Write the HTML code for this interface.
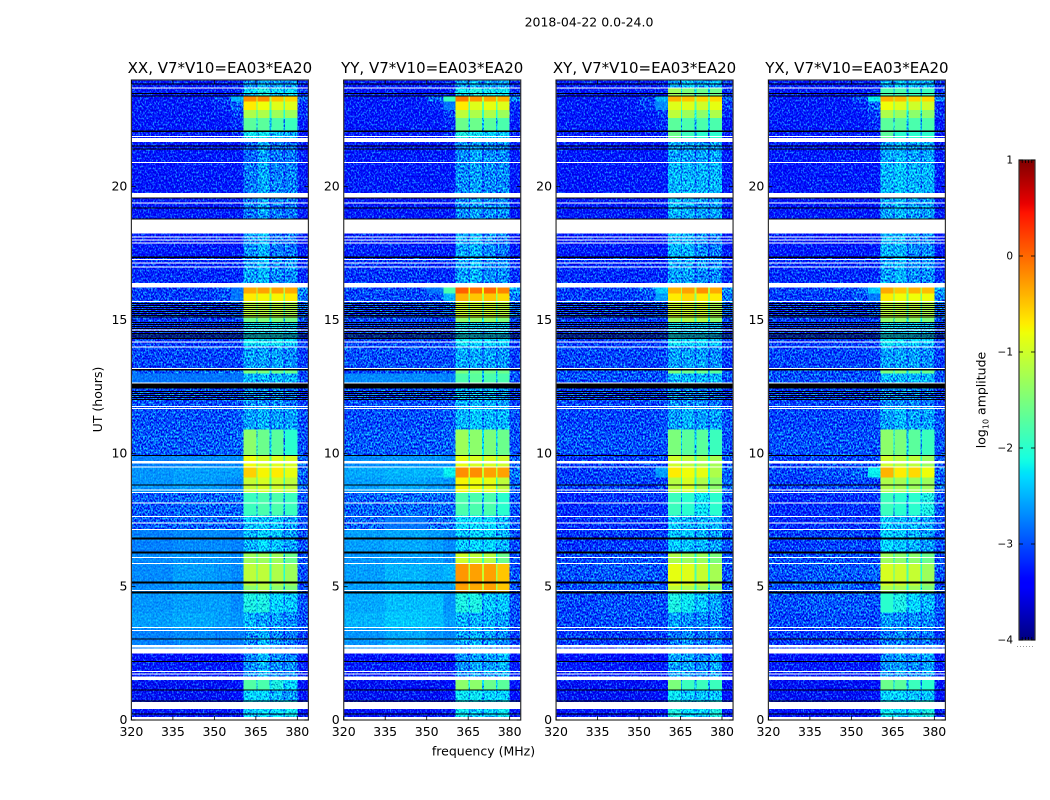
<!DOCTYPE html>
<html>
<head>
<meta charset="utf-8">
<title>2018-04-22 0.0-24.0</title>
<style>
html,body{margin:0;padding:0;background:#fff;width:1050px;height:800px;overflow:hidden}
svg{display:block}
text{font-family:"DejaVu Sans","Liberation Sans",sans-serif;fill:#000}
</style>
</head>
<body>
<svg id="figure" width="1050" height="800" viewBox="0 0 1050 800" xmlns="http://www.w3.org/2000/svg">
<defs>
<filter id="speckle" filterUnits="userSpaceOnUse" x="0" y="0" width="1050" height="800" color-interpolation-filters="sRGB">
<feTurbulence type="fractalNoise" baseFrequency="0.62 0.5" numOctaves="2" seed="7" result="n"/>
<feColorMatrix in="n" type="matrix" values="0.5 0 0 0 0.25  2.3 0 0 0 -0.65  0.6 0 0 0 0.2  0 0 0 0 1" result="c"/>
<feComposite in="SourceGraphic" in2="c" operator="arithmetic" k1="0" k2="1" k3="1" k4="-0.5" result="m"/>
<feComposite in="m" in2="SourceAlpha" operator="in"/>
</filter>
<filter id="speckle-soft" filterUnits="userSpaceOnUse" x="0" y="0" width="1050" height="800" color-interpolation-filters="sRGB">
<feTurbulence type="fractalNoise" baseFrequency="0.62 0.5" numOctaves="2" seed="11" result="n"/>
<feColorMatrix in="n" type="matrix" values="0.2 0 0 0 0.4  0.6 0 0 0 0.2  0.2 0 0 0 0.4  0 0 0 0 1" result="c"/>
<feComposite in="SourceGraphic" in2="c" operator="arithmetic" k1="0" k2="1" k3="1" k4="-0.5" result="m"/>
<feComposite in="m" in2="SourceAlpha" operator="in"/>
</filter>
<linearGradient id="jet-gradient" x1="0" y1="1" x2="0" y2="0"></linearGradient>
</defs>
<rect width="1050" height="800" fill="#fff"/>
<text x="589" y="26.500" font-size="12.5" text-anchor="middle">2018-04-22 0.0-24.0</text>
<text x="483.500" y="755.500" font-size="12.5" text-anchor="middle">frequency (MHz)</text>
<text x="0" y="0" font-size="12.500" text-anchor="middle" transform="translate(102,399.500) rotate(-90)">UT (hours)</text>
<g id="panels"></g>
<g id="colorbar"></g>
<text x="0" y="0" font-size="12.500" text-anchor="middle" transform="translate(985.500,400) rotate(-90)">log<tspan font-size="8" dy="3">10</tspan><tspan dy="-3"> amplitude</tspan></text>
</svg>
<script>
// ---------- chart data ----------
const panelTitles = ["XX, V7*V10=EA03*EA20", "YY, V7*V10=EA03*EA20", "XY, V7*V10=EA03*EA20", "YX, V7*V10=EA03*EA20"];
const freqTicks = [320, 335, 350, 365, 380];
const hourTicks = [0, 5, 10, 15, 20];
const colorTicks = [1, 0, -1, -2, -3, -4];
// frequency channel edges (MHz), one channel per matrix column
const channelEdges = [
  [320, 335], [335, 350], [350, 356], [356, 360.5],
  [360.5, 365.2], [365.6, 370], [370.7, 375], [375.6, 380], [380, 384]
];
// narrow notch channels between the bright sub-bands: [MHz range, left column, right column]
const notchChannels = [[365.2, 365.6, 4, 5], [370, 370.7, 5, 6], [375, 375.6, 6, 7]];
// time bin edges, top to bottom (hours UT)
const rowEdgesHours = [24,23.7,23.38,23.2,22.88,22.58,22.09,21.67,20.92,19.59,18.24,17.35,16.31,15.99,15.69,15.07,14.92,14.04,13.16,12.99,12.43,11.74,10.89,9.91,9.5,9.09,8.54,7.66,7.14,6.28,5.89,5.04,4.75,4.04,3.44,2.5,2.19,1.5,1.12,.74,0];
// log10 amplitude: rows = time bins, columns = channels
const ampXX = [
[-3.3,-3.3,-3.3,-3.25,-2.7,-2.5,-2.6,-2.6,-3.2],
[-3.3,-3.3,-3.3,-3.25,-2.3,-2.1,-2.3,-2.3,-3.2],
[-3.3,-3.3,-3.1,-2.5,-.2,-.2,-.5,-.6,-2.9],
[-3.3,-3.3,-3.2,-2.9,-.7,-.8,-.9,-.9,-3.2],
[-3.3,-3.3,-3.3,-3.1,-1.2,-1.2,-1.3,-1.3,-3.2],
[-3.3,-3.3,-3.3,-3.2,-1.7,-1.7,-1.8,-1.9,-3.3],
[-3.3,-3.3,-3.3,-3.2,-2.2,-2.2,-2.4,-2.5,-3.3],
[-3.3,-3.3,-3.3,-3.3,-2.9,-2.6,-2.8,-2.8,-3.3],
[-3.35,-3.3,-3.3,-3.3,-2.8,-2.55,-2.75,-2.75,-3.3],
[-3.3,-3.3,-3.3,-3.3,-2.8,-2.6,-2.8,-2.8,-3.3],
[-3.3,-3.3,-3.3,-3.3,-2.7,-2.5,-2.8,-2.8,-3.3],
[-3.2,-3.2,-3.2,-3.2,-2.6,-2.5,-2.7,-2.7,-3.2],
[-3.1,-3.1,-3,-2.8,-.35,-.3,-.3,-.35,-2.7],
[-3.1,-3.1,-3,-2.8,-.7,-.75,-.75,-.7,-2.8],
[-3.1,-3.1,-3.1,-3,-1.1,-1.1,-1.1,-1.2,-2.9],
[-3.1,-3.1,-3.1,-3.1,-1.6,-1.5,-1.5,-1.6,-3],
[-3.1,-3.1,-3.1,-3.1,-2.2,-2.2,-2.2,-2.3,-3.1],
[-3.05,-3.05,-3.05,-3.05,-2.6,-2.6,-2.6,-2.7,-3.1],
[-2.95,-2.9,-2.9,-2.9,-1.5,-1.5,-1.6,-1.6,-3],
[-2.8,-2.8,-2.8,-2.8,-2.5,-2.5,-2.5,-2.5,-3],
[-3,-3,-3,-3,-2.7,-2.7,-2.7,-2.8,-3.1],
[-3,-3,-3,-2.95,-2.6,-2.5,-2.6,-2.6,-3],
[-2.95,-2.95,-2.95,-2.9,-1.4,-1.6,-1.7,-2,-3],
[-2.75,-2.7,-2.7,-2.7,-.8,-.95,-.9,-.95,-2.9],
[-2.65,-2.6,-2.6,-2.6,-.55,-.75,-.7,-.85,-2.9],
[-2.65,-2.6,-2.65,-2.7,-1.05,-.95,-1,-1.1,-2.9],
[-2.95,-2.9,-2.9,-2.9,-1.9,-1.8,-1.8,-1.9,-3],
[-2.95,-2.9,-2.9,-2.9,-2.4,-2.4,-2.4,-2.6,-3],
[-2.75,-2.7,-2.7,-2.75,-2.5,-2.3,-2.4,-2.6,-3],
[-2.7,-2.65,-2.65,-2.7,-1.3,-1.3,-1.3,-1.6,-3],
[-2.7,-2.6,-2.65,-2.7,-1.1,-1.1,-1.2,-1.3,-3],
[-2.7,-2.65,-2.65,-2.7,-1.4,-1.2,-1.4,-1.5,-3],
[-2.65,-2.6,-2.6,-2.7,-2.1,-2.1,-2.3,-2.4,-3],
[-2.6,-2.55,-2.6,-2.65,-2.5,-2.6,-2.6,-2.7,-3],
[-2.75,-2.7,-2.75,-2.75,-2.7,-2.5,-2.7,-2.8,-3.1],
[-3.45,-3.45,-3.45,-3.4,-2.7,-2.5,-2.7,-2.7,-3.4],
[-3.3,-3.3,-3.3,-3.3,-2.7,-2.5,-2.7,-2.7,-3.3],
[-3.5,-3.5,-3.5,-3.45,-1.75,-1.8,-2.1,-2.3,-3.4],
[-3.5,-3.5,-3.5,-3.45,-2.3,-2.3,-2.5,-2.6,-3.4],
[-3.35,-3.35,-3.35,-3.3,-2.4,-2.3,-2.3,-2.2,-3.3]
];
const ampYY = [
[-3.3,-3.3,-3.3,-3.25,-2.6,-2.5,-2.6,-2.6,-3.2],
[-3.3,-3.3,-3.3,-3.25,-2.2,-2.1,-2.2,-2.2,-3.2],
[-3.3,-3.3,-2.9,-1.9,-.1,-.25,-.35,-.4,-2.7],
[-3.3,-3.3,-3.2,-2.8,-.7,-.9,-.85,-.9,-3.2],
[-3.3,-3.3,-3.3,-3.1,-1.1,-1.2,-1.2,-1.3,-3.2],
[-3.3,-3.3,-3.3,-3.2,-1.6,-1.6,-1.7,-1.8,-3.3],
[-3.3,-3.3,-3.3,-3.2,-2.1,-2.2,-2.3,-2.4,-3.3],
[-3.3,-3.3,-3.3,-3.3,-2.7,-2.6,-2.7,-2.7,-3.3],
[-3.3,-3.3,-3.3,-3.3,-2.7,-2.6,-2.7,-2.7,-3.3],
[-3.3,-3.3,-3.3,-3.3,-2.7,-2.6,-2.7,-2.7,-3.3],
[-3.25,-3.25,-3.25,-3.3,-2.6,-2.5,-2.7,-2.8,-3.3],
[-3.15,-3.15,-3.2,-3.2,-2.6,-2.5,-2.7,-2.7,-3.2],
[-3.05,-3.05,-2.8,-1.8,.05,-.05,0,-.15,-2.6],
[-3.05,-3.05,-3,-2.5,-.4,-.5,-.5,-.6,-2.8],
[-3.05,-3.05,-3.05,-2.9,-1,-1,-1,-1.1,-2.9],
[-3.05,-3.05,-3.05,-3.05,-1.4,-1.4,-1.4,-1.5,-3],
[-3.05,-3.05,-3.05,-3.05,-2.2,-2.3,-2.3,-2.3,-3.1],
[-3,-3,-3,-3,-2.55,-2.55,-2.6,-2.65,-3.1],
[-3.1,-3,-3,-3,-1.5,-1.6,-1.6,-1.6,-3],
[-2.7,-2.7,-2.7,-2.75,-1.8,-1.7,-1.8,-1.8,-3],
[-3,-3,-3,-3,-2.5,-2.5,-2.5,-2.6,-3.1],
[-3,-3,-3,-2.95,-2.5,-2.4,-2.5,-2.5,-3],
[-2.95,-2.95,-2.95,-2.9,-1.3,-1.4,-1.5,-1.6,-3],
[-2.7,-2.65,-2.65,-2.7,-.85,-.95,-.95,-1,-2.9],
[-2.55,-2.5,-2.5,-2.2,-.2,-.2,-.3,-.3,-2.8],
[-2.6,-2.55,-2.6,-2.65,-.75,-.8,-.85,-1.1,-2.9],
[-2.9,-2.85,-2.85,-2.9,-1.8,-1.8,-1.8,-2,-3],
[-2.9,-2.8,-2.85,-2.85,-2.3,-2.3,-2.3,-2.5,-3],
[-2.6,-2.55,-2.6,-2.7,-2.4,-2.3,-2.3,-2.5,-3],
[-2.65,-2.6,-2.6,-2.7,-1,-1.1,-1.15,-1.6,-3],
[-2.6,-2.5,-2.55,-2.5,-.25,-.3,-.3,-.5,-3],
[-2.6,-2.55,-2.6,-2.6,-.3,-.35,-.3,-.5,-3],
[-2.55,-2.45,-2.45,-2.65,-2.1,-2.1,-2.4,-2.4,-3],
[-2.5,-2.4,-2.45,-2.6,-2.5,-2.5,-2.5,-2.6,-3],
[-2.65,-2.55,-2.65,-2.7,-2.6,-2.5,-2.6,-2.7,-3.1],
[-3.45,-3.45,-3.45,-3.4,-2.7,-2.6,-2.6,-2.5,-3.4],
[-3.3,-3.3,-3.3,-3.3,-2.7,-2.6,-2.6,-2.5,-3.3],
[-3.5,-3.5,-3.5,-3.45,-1.4,-1.4,-1.6,-1.7,-3.4],
[-3.5,-3.5,-3.5,-3.45,-2.2,-2.2,-2.3,-2.3,-3.4],
[-3.35,-3.35,-3.35,-3.3,-2.2,-2.4,-2.3,-2.2,-3.3]
];
const ampXY = [
[-3.3,-3.3,-3.3,-3.25,-2.6,-2.4,-2.5,-2.5,-3.2],
[-3.3,-3.3,-3.3,-3.25,-1.3,-1.5,-1.6,-1.6,-3.2],
[-3.3,-3.3,-3.1,-2.5,-.4,-.5,-.6,-.6,-2.9],
[-3.3,-3.3,-3.1,-2.7,-.9,-.9,-1,-.85,-3.1],
[-3.3,-3.3,-3.3,-3.1,-1.1,-1.3,-1.4,-1.2,-3.2],
[-3.3,-3.3,-3.3,-3.2,-1.7,-1.8,-1.8,-1.8,-3.3],
[-3.3,-3.3,-3.3,-3.2,-1.6,-1.9,-2,-2,-3.3],
[-3.3,-3.3,-3.3,-3.3,-2.6,-2.6,-2.6,-2.6,-3.3],
[-3.35,-3.3,-3.3,-3.3,-2.5,-2.5,-2.5,-2.5,-3.3],
[-3.3,-3.3,-3.3,-3.3,-2.5,-2.55,-2.6,-2.6,-3.3],
[-3.3,-3.3,-3.3,-3.3,-2.5,-2.5,-2.7,-2.8,-3.3],
[-3.2,-3.2,-3.2,-3.2,-2.6,-2.6,-2.7,-2.7,-3.2],
[-3.1,-3.05,-2.9,-2.4,-.4,-.3,-.2,-.35,-2.7],
[-3.1,-3.1,-3,-2.6,-.7,-.6,-.7,-.7,-2.8],
[-3.1,-3.1,-3.1,-3,-1,-1,-1,-1.2,-2.9],
[-3.1,-3.1,-3.1,-3.1,-1.3,-1.2,-1.2,-1.4,-3],
[-3.1,-3.1,-3.1,-3.1,-2.2,-2.3,-2.3,-2.4,-3.1],
[-3.05,-3.05,-3.05,-3.05,-2.6,-2.6,-2.6,-2.7,-3.1],
[-3,-3,-3,-3,-1.5,-1.6,-1.6,-1.7,-3],
[-3,-3,-3,-3,-2.5,-2.5,-2.5,-2.5,-3],
[-3.05,-3.05,-3.05,-3.05,-2.7,-2.7,-2.7,-2.8,-3.1],
[-3.05,-3.05,-3.05,-3,-2.6,-2.5,-2.6,-2.6,-3],
[-3,-3,-3,-3,-1.5,-1.7,-1.7,-1.9,-3],
[-3.15,-3.1,-3.1,-3.05,-1,-1.1,-1.2,-1.25,-3],
[-3.1,-3.05,-3,-2.6,-.7,-.8,-.85,-1.2,-2.9],
[-3.1,-3.05,-3.1,-3.1,-1.15,-.95,-1.2,-1.4,-2.9],
[-3.2,-3.15,-3.15,-3.15,-1.9,-2,-2.2,-2,-3],
[-3.2,-3.15,-3.15,-3.15,-2.4,-2.5,-2.5,-2.5,-3],
[-3.15,-3.1,-3.1,-3.1,-2.4,-2.4,-2.5,-2.6,-3],
[-3.05,-3,-3,-3.05,-1.2,-1.3,-1.3,-1.5,-3],
[-3,-2.95,-2.95,-3,-.85,-.9,-1.05,-1.25,-3],
[-3,-2.95,-2.95,-3,-1.1,-1.2,-1.3,-1.4,-3],
[-3.05,-3,-3,-3,-2.1,-2.2,-2.4,-2.6,-3],
[-3.05,-3,-3,-3.05,-2.6,-2.7,-2.7,-2.7,-3],
[-3.1,-3.1,-3.1,-3.1,-2.8,-2.7,-2.8,-2.8,-3.1],
[-3.45,-3.45,-3.45,-3.4,-2.6,-2.6,-2.7,-2.6,-3.4],
[-3.3,-3.3,-3.3,-3.3,-2.6,-2.6,-2.7,-2.6,-3.3],
[-3.5,-3.5,-3.5,-3.45,-1.5,-1.9,-1.9,-1.9,-3.4],
[-3.5,-3.5,-3.5,-3.45,-2.2,-2.4,-2.4,-2.4,-3.4],
[-3.35,-3.35,-3.35,-3.3,-2.1,-2.3,-2.3,-2.1,-3.3]
];
const ampYX = [
[-3.3,-3.3,-3.3,-3.25,-2.6,-2.4,-2.5,-2.5,-3.2],
[-3.3,-3.3,-3.3,-3.25,-1.8,-1.8,-1.9,-1.9,-3.2],
[-3.3,-3.3,-3.05,-2.2,-.4,-.45,-.6,-.6,-2.8],
[-3.3,-3.3,-3.2,-2.9,-.8,-.9,-1,-1,-3.2],
[-3.3,-3.3,-3.3,-3.1,-1.2,-1.3,-1.4,-1.4,-3.2],
[-3.3,-3.3,-3.3,-3.2,-1.7,-1.7,-1.8,-1.8,-3.3],
[-3.3,-3.3,-3.3,-3.2,-1.7,-2,-2,-2,-3.3],
[-3.3,-3.3,-3.3,-3.3,-2.6,-2.5,-2.6,-2.6,-3.3],
[-3.35,-3.3,-3.3,-3.3,-2.5,-2.4,-2.5,-2.5,-3.3],
[-3.3,-3.3,-3.3,-3.3,-2.6,-2.5,-2.6,-2.6,-3.3],
[-3.3,-3.3,-3.3,-3.3,-2.5,-2.5,-2.7,-2.7,-3.3],
[-3.2,-3.2,-3.2,-3.2,-2.6,-2.5,-2.7,-2.7,-3.2],
[-3.1,-3.05,-2.9,-2.4,-.35,-.5,-.4,-.45,-2.6],
[-3.1,-3.1,-3,-2.8,-.7,-.8,-.8,-.8,-2.8],
[-3.1,-3.1,-3.1,-3,-1.1,-1.1,-1.1,-1.2,-2.9],
[-3.1,-3.1,-3.1,-3.1,-1.4,-1.4,-1.4,-1.5,-3],
[-3.1,-3.1,-3.1,-3.1,-2.2,-2.3,-2.3,-2.4,-3.1],
[-3.05,-3.05,-3.05,-3.05,-2.6,-2.6,-2.6,-2.7,-3.1],
[-3,-3,-3,-3,-1.5,-1.5,-1.6,-1.6,-3],
[-3,-3,-3,-3,-2.5,-2.5,-2.5,-2.5,-3],
[-3.05,-3.05,-3.05,-3.05,-2.7,-2.7,-2.7,-2.8,-3.1],
[-3.05,-3.05,-3.05,-3,-2.6,-2.5,-2.6,-2.6,-3],
[-3,-3,-3,-3,-1.4,-1.5,-1.7,-1.9,-3],
[-3.1,-3.05,-3.05,-3.05,-1,-1.1,-1.1,-1.3,-3],
[-3.05,-3,-2.9,-2.2,-.4,-.7,-.6,-.8,-2.9],
[-3.1,-3.05,-3.05,-3.1,-1.2,-1.25,-1.3,-1.3,-2.9],
[-3.2,-3.15,-3.15,-3.15,-1.9,-2,-2,-2.1,-3],
[-3.2,-3.15,-3.15,-3.15,-2.4,-2.5,-2.5,-2.6,-3],
[-3.1,-3.05,-3.05,-3.1,-2.3,-2.4,-2.5,-2.6,-3],
[-3,-3,-3,-3.05,-1.3,-1.4,-1.4,-1.6,-3],
[-3,-2.95,-2.95,-2.9,-.95,-1,-1.05,-1.3,-3],
[-3,-2.95,-2.95,-3,-1.2,-1.25,-1.3,-1.5,-3],
[-3,-2.95,-2.95,-3,-2,-2.1,-2.3,-2.5,-3],
[-3.05,-3,-3,-3.05,-2.6,-2.7,-2.7,-2.7,-3],
[-3.1,-3.1,-3.1,-3.1,-2.8,-2.7,-2.8,-2.8,-3.1],
[-3.45,-3.45,-3.45,-3.4,-2.7,-2.6,-2.7,-2.6,-3.4],
[-3.3,-3.3,-3.3,-3.3,-2.7,-2.6,-2.7,-2.6,-3.3],
[-3.5,-3.5,-3.5,-3.45,-1.6,-1.7,-1.9,-2,-3.4],
[-3.5,-3.5,-3.5,-3.45,-2.3,-2.3,-2.4,-2.4,-3.4],
[-3.35,-3.35,-3.35,-3.3,-2.2,-2.3,-2.2,-2.1,-3.3]
];
const panelAmplitudes = [ampXX, ampYY, ampXY, ampYX];
// flagged data (hours UT): white = missing, black = blanked scans
const whiteLinesHours = [23.7,21.89,20.91,19.38,18.11,18,17.88,17.26,17.13,16.98,15.7,14.62,14.17,13.98,13.19,12.63,11.76,11.69,9.48,8.63,8.54,8.13,7.64,7.39,7.15,6.1,5.87,4.86,3.47,3.36,1.82,1.73];
const whiteBandsStart = [21.82,19.77,18.76,16.39,9.71,2.82,2.69,1.63,.68,.12];
const whiteBandsEnd = [21.67,19.59,18.24,16.21,9.61,2.72,2.5,1.5,.42,0];
const blackLinesHours = [23.85,23.49,23.4,21.53,21.41,19.57,19.2,18.78,15.62,15.54,15.47,15.39,15.32,15.24,15.17,15.11,14.9,14.84,14.75,14.69,14.56,14.5,14.44,14.37,14.31,12.32,12.25,12.16,12.09,12.01,9.91,8.81,6.83,6.78,5.18,5.13,3.03,2.19,1.12,.22];
const blackBandsStart = [22.1,17.38,13.16,12.61,6.31,4.81,.74];
const blackBandsEnd = [22.05,17.32,13.11,12.43,6.24,4.75,.69];

// ---------- axes ----------
const NS = "http://www.w3.org/2000/svg";
const AX_TOP = 80, AX_BOTTOM = 720, AX_W = 177, AX_STEP = 212.33, AX_LEFT = 131.4;
const F_MIN = 320, F_MAX = 384, H_MAX = 24, C_MIN = -4, C_MAX = 1;
const CB_LEFT = 1019, CB_RIGHT = 1035, CB_TOP = 160, CB_BOTTOM = 640;
function xScale(panel, mhz) { return AX_LEFT + AX_STEP * panel + (mhz - F_MIN) / (F_MAX - F_MIN) * AX_W; }
function yScale(h) { return AX_BOTTOM - h / H_MAX * (AX_BOTTOM - AX_TOP); }
function cScale(v) { return CB_BOTTOM - (v - C_MIN) / (C_MAX - C_MIN) * (CB_BOTTOM - CB_TOP); }
function ramp(t, xs, ys) {
  if (t <= xs[0]) return ys[0];
  for (let i = 1; i < xs.length; i++) {
    if (t <= xs[i]) return ys[i - 1] + (ys[i] - ys[i - 1]) * (t - xs[i - 1]) / (xs[i] - xs[i - 1]);
  }
  return ys[ys.length - 1];
}
function jet(v) {
  const t = (v - C_MIN) / (C_MAX - C_MIN);
  const r = ramp(t, [0, .35, .66, .89, 1], [0, 0, 1, 1, .5]);
  const g = ramp(t, [0, .125, .375, .64, .91, 1], [0, 0, 1, 1, 0, 0]);
  const b = ramp(t, [0, .11, .34, .65, 1], [.5, 1, 1, 0, 0]);
  return "rgb(" + Math.round(r * 255) + "," + Math.round(g * 255) + "," + Math.round(b * 255) + ")";
}
function svgEl(tag, parent, attrs) {
  const el = document.createElementNS(NS, tag);
  for (const k in attrs) el.setAttribute(k, attrs[k]);
  parent.appendChild(el);
  return el;
}

const panelsRoot = document.getElementById("panels");
const panelKeys = ["xx", "yy", "xy", "yx"];
panelTitles.forEach(function (title, p) {
  const group = svgEl("g", panelsRoot, {});
  
  

  const noisy = svgEl("g", group, { filter: "url(#speckle)", "shape-rendering": "crispEdges" });
  
  
  const soft = svgEl("g", group, { filter: "url(#speckle-soft)", "shape-rendering": "crispEdges" });
  
  
  const smooth = svgEl("g", group, { "shape-rendering": "crispEdges" });
  
  

  const matrix = panelAmplitudes[p];
  function addCell(f0, f1, h0, h1, value, isContinuum) {
    const x0 = xScale(p, f0), x1 = xScale(p, f1), y0 = yScale(h0), y1 = yScale(h1);
    const target = value >= -2.05 ? smooth : (isContinuum && value > -2.85 ? soft : noisy);
    const cell = svgEl("rect", target, {
      x: x0.toFixed(2), y: y0.toFixed(2),
      width: (x1 - x0).toFixed(2), height: (y1 - y0).toFixed(2), fill: jet(value)
    });
    
    
  }
  matrix.forEach(function (row, r) {
    const h0 = rowEdgesHours[r], h1 = rowEdgesHours[r + 1];
    row.forEach(function (value, c) { addCell(channelEdges[c][0], channelEdges[c][1], h0, h1, value, c < 4); });
    notchChannels.forEach(function (n) {
      const base = Math.min(row[n[2]], row[n[3]]);
      addCell(n[0], n[1], h0, h1, base - (base > -2.05 ? 0.75 : 0.3), false);
    });
  });

  const flags = svgEl("g", group, { "shape-rendering": "crispEdges" });
  
  
  const left = xScale(p, F_MIN), right = xScale(p, F_MAX);
  function addFlag(h0, h1, color) {
    const y0 = yScale(h0), y1 = yScale(h1);
    const flag = svgEl("rect", flags, {
      x: left.toFixed(2), y: y0.toFixed(2), width: (right - left).toFixed(2),
      height: Math.max(1, y1 - y0).toFixed(2), fill: color
    });
    
    
  }
  const halfLine = 0.5 * H_MAX / (AX_BOTTOM - AX_TOP);
  blackLinesHours.forEach(function (h) { addFlag(h + halfLine, h - halfLine, "#000"); });
  blackBandsStart.forEach(function (h, i) { addFlag(h, blackBandsEnd[i], "#000"); });
  whiteLinesHours.forEach(function (h) { addFlag(h + halfLine, h - halfLine, "#fff"); });
  whiteBandsStart.forEach(function (h, i) { addFlag(h, whiteBandsEnd[i], "#fff"); });

  const frame = svgEl("rect", group, {
    x: left.toFixed(2), y: AX_TOP, width: (right - left).toFixed(2), height: AX_BOTTOM - AX_TOP,
    fill: "none", stroke: "#333", "stroke-width": 1.2
  });
  
  

  freqTicks.forEach(function (f) {
    const x = xScale(p, f);
    const tb = svgEl("line", group, { x1: x, x2: x, y1: AX_BOTTOM, y2: AX_BOTTOM - 4, stroke: "#000", "stroke-width": .8 });
    
    
    const tt = svgEl("line", group, { x1: x, x2: x, y1: AX_TOP, y2: AX_TOP + 4, stroke: "#000", "stroke-width": .8 });
    
    
    const lab = svgEl("text", group, { x: x, y: 736, "font-size": 12.5, "text-anchor": "middle" });
    lab.textContent = String(f);
    
    
  });
  hourTicks.forEach(function (h) {
    const y = yScale(h);
    const tl = svgEl("line", group, { x1: left, x2: left + 4, y1: y, y2: y, stroke: "#000", "stroke-width": .8 });
    
    
    const tr = svgEl("line", group, { x1: right, x2: right - 4, y1: y, y2: y, stroke: "#000", "stroke-width": .8 });
    
    
    const lab = svgEl("text", group, { x: left - 4, y: y + 4, "font-size": 12.5, "text-anchor": "end" });
    lab.textContent = String(h);
    
    
  });
  const ttl = svgEl("text", group, { x: (left + right) / 2, y: 73, "font-size": 15, "text-anchor": "middle" });
  ttl.textContent = title;
  
  
});

// ---------- colorbar ----------
const gradient = document.getElementById("jet-gradient");
for (let i = 0; i <= 100; i++) {
  const v = C_MIN + (C_MAX - C_MIN) * i / 100;
  svgEl("stop", gradient, { offset: i + "%", "stop-color": jet(v) });
}
const cbRoot = document.getElementById("colorbar");
const cbBar = svgEl("rect", cbRoot, {
  x: CB_LEFT, y: CB_TOP, width: CB_RIGHT - CB_LEFT, height: CB_BOTTOM - CB_TOP,
  fill: "url(#jet-gradient)", stroke: "#333", "stroke-width": 1.2
});


colorTicks.forEach(function (v) {
  const y = cScale(v);
  const t1 = svgEl("line", cbRoot, { x1: CB_LEFT, x2: CB_LEFT + 4, y1: y, y2: y, stroke: "#000", "stroke-width": .8 });
  
  
  const t2 = svgEl("line", cbRoot, { x1: CB_RIGHT, x2: CB_RIGHT - 4, y1: y, y2: y, stroke: "#000", "stroke-width": .8 });
  
  
  const lab = svgEl("text", cbRoot, { x: CB_LEFT - 6, y: y + 3.5, "font-size": 10.5, "text-anchor": "end" });
  lab.textContent = v < 0 ? "\u2212" + Math.abs(v) : String(v);
  
  
});
for (let i = 1; i <= 4; i++) {
  const x = CB_LEFT + i * (CB_RIGHT - CB_LEFT) / 5;
  const hatchTop = svgEl("line", cbRoot, { x1: x, x2: x, y1: CB_TOP, y2: CB_TOP + 3, stroke: "#000", "stroke-width": .8 });
  
  
  const hatchBottom = svgEl("line", cbRoot, { x1: x, x2: x, y1: CB_BOTTOM, y2: CB_BOTTOM - 3, stroke: "#000", "stroke-width": .8 });
  
  
}
const cbDots = svgEl("line", cbRoot, {
  x1: 1017, x2: 1035, y1: 646.5, y2: 646.5, stroke: "#999", "stroke-width": 1, "stroke-dasharray": "1 2"
});


</script>
</body>
</html>
